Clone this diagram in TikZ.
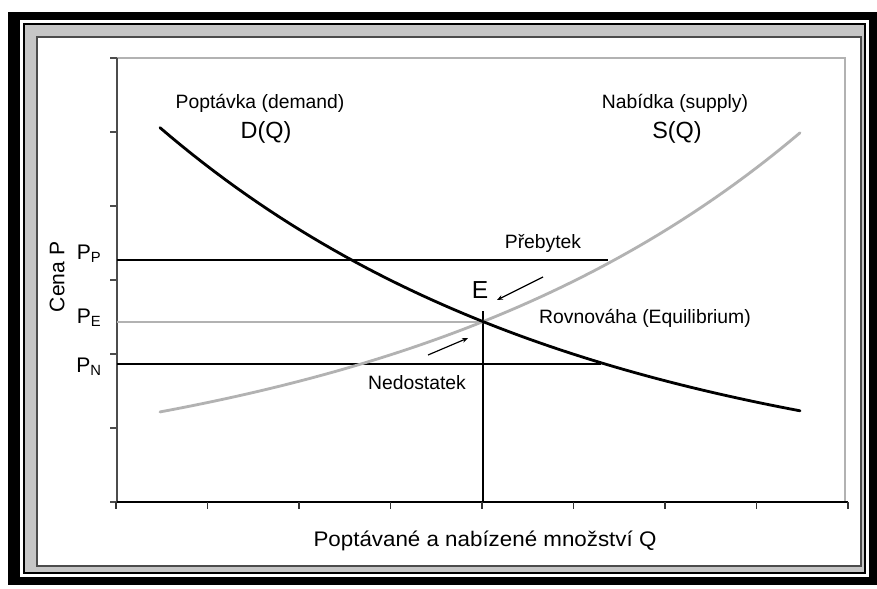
\documentclass[tikz,border=0pt]{standalone}
\usepackage{fontspec}
\setmainfont{Liberation Sans}
\usetikzlibrary{arrows.meta}
\begin{document}
\begin{tikzpicture}[x=0.03cm,y=-0.03cm,
  curve/.style={line width=2.4pt,line cap=round},
  level/.style={line width=1.4pt},
  lbl/.style={font=\fontsize{16.5}{18}\selectfont,inner sep=0pt},
  plbl/.style={font=\fontsize{18}{20}\selectfont,inner sep=0pt},
  big/.style={font=\fontsize{20}{22}\selectfont,inner sep=0pt},
  hint/.style={line width=1pt,-{Stealth[length=5pt,width=4pt]}}]
\useasboundingbox (0,0) rectangle (877,588);
\fill[black] (8,12) rectangle (877,585);
\fill[white] (20,20) rectangle (869,577);
\fill[black] (23,23) rectangle (866,574);
\fill[gray!45] (25,25) rectangle (864,572);
\fill[white,draw=black!70,line width=1.6pt] (37,37) rectangle (861,566);
\draw[gray!60,line width=1.4pt] (117,58) -- (845,58) -- (845,502);
\draw[black!70,line width=1.8pt] (117,58) -- (117,502);
\draw[black,line width=1.8pt] (110,502) -- (848,502);
\foreach \y in {0,...,6} {
   \draw[black!70,line width=1.2pt] (110,58+74*\y) -- (117,58+74*\y);
}
\foreach \x in {0,...,8} {
   \draw[black!80,line width=1.2pt] (116+91.5*\x,502) -- (116+91.5*\x,509);
}
\coordinate (eq) at (483,322);
\coordinate (pp0) at (117,260);
\coordinate (pp1) at (608,260);
\coordinate (pe0) at (117,322);
\coordinate (pn0) at (117,364);
\coordinate (pn1) at (601,364);
\coordinate (qe) at (483,502);
\coordinate (qtop) at (483,311);
\draw[level] (pp0) -- (pp1);
\draw[level] (pn0) -- (pn1);
\draw[level,gray!60] (pe0) -- (eq);
\draw[level] (qtop) -- (qe);
\draw[curve,gray!60] plot[domain=160:800,samples=60] ({\x},{490.7-53.96*exp(0.00236*\x)});
\draw[curve] plot[domain=160:800,samples=60] ({\x},{490.7-53.96*exp(0.00236*(966-\x))});
\node[lbl] (dem) at (260,103) {Poptávka (demand)};
\node[big] (dq) at (266,132) {D(Q)};
\node[lbl] (sup) at (675,103) {Nabídka (supply)};
\node[big] (sq) at (677,132) {S(Q)};
\node[plbl] (pp) at (89,254) {P\textsubscript{P}};
\node[plbl] (pe) at (89,318) {P\textsubscript{E}};
\node[plbl] (pn) at (89,367) {P\textsubscript{N}};
\node[plbl,rotate=90] (cena) at (57,277) {Cena P};
\node[font=\fontsize{18}{20}\selectfont,inner sep=0pt,xscale=1.06] (qlab) at (485,541) {Poptávané a nabízené množství Q};
\node[lbl] (preb) at (543,243) {Přebytek};
\node[font=\fontsize{21}{23}\selectfont,inner sep=0pt] (elab) at (480,290) {E};
\node[lbl] (rovn) at (645,318) {Rovnováha (Equilibrium)};
\node[lbl] (nedo) at (417,383) {Nedostatek};
\coordinate (a0) at (543,277);
\coordinate (a1) at (497,300);
\coordinate (b0) at (428,355);
\coordinate (b1) at (468,338);
\draw[hint] (a0) -- (a1);
\draw[hint] (b0) -- (b1);
\end{tikzpicture}
\end{document}
